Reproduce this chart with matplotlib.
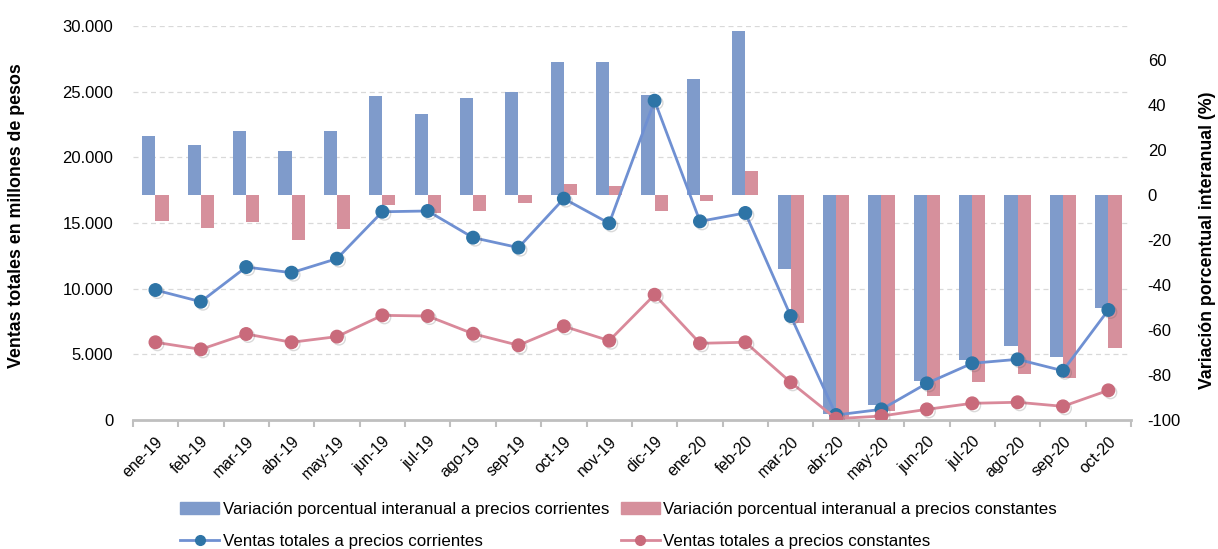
"""Ventas totales y variacion porcentual interanual, ene-19 a oct-20."""

import matplotlib.pyplot as plt
import matplotlib.ticker as mticker
import matplotlib.patheffects as pe
from matplotlib.lines import Line2D
from matplotlib.patches import Patch
import numpy as np

plt.rcParams['font.family'] = ['Liberation Sans', 'DejaVu Sans']
plt.rcParams['axes.unicode_minus'] = False

meses = ['ene-19', 'feb-19', 'mar-19', 'abr-19', 'may-19', 'jun-19', 'jul-19',
         'ago-19', 'sep-19', 'oct-19', 'nov-19', 'dic-19', 'ene-20', 'feb-20',
         'mar-20', 'abr-20', 'may-20', 'jun-20', 'jul-20', 'ago-20', 'sep-20',
         'oct-20']

# variacion porcentual interanual (eje derecho)
var_corrientes = [26.0, 22.2, 28.6, 19.7, 28.6, 43.8, 36.0, 43.1, 45.9, 59.1,
                  59.1, 44.4, 51.4, 73.0, -32.9, -97.3, -93.3, -82.5, -73.2,
                  -67.0, -72.0, -50.4]
var_constantes = [-11.4, -14.5, -12.0, -20.2, -15.3, -4.3, -8.2, -7.0, -3.7, 5.0,
                  3.8, -7.0, -2.5, 10.7, -56.8, -98.5, -96.2, -89.2, -83.3,
                  -79.6, -81.5, -68.2]

# ventas totales en millones de pesos (eje izquierdo)
ventas_corrientes = [9900, 9010, 11650, 11220, 12290, 15860, 15920, 13890, 13130,
                     16860, 14980, 24320, 15130, 15770, 7920, 380, 810, 2790,
                     4320, 4620, 3750, 8380]
ventas_constantes = [5920, 5380, 6550, 5920, 6350, 7970, 7920, 6570, 5690, 7140,
                     6040, 9540, 5840, 5920, 2870, 100, 300, 810, 1270, 1350,
                     1040, 2260]

AZUL_BAR = '#7f9bcb'
ROSA_BAR = '#d6909c'
AZUL_LIN = '#6f90d2'
AZUL_MK = '#2e74a6'
ROSA_LIN = '#d9899a'
ROSA_MK = '#c96a7b'
GRIS = '#bfbfbf'


def main():
    x = np.arange(len(meses))
    w = 0.29

    fig = plt.figure(figsize=(12.18, 5.49), dpi=100)
    ax = fig.add_axes([0.109, 0.235, 0.8196, 0.7174])
    ax2 = ax.twinx()   # barras, escala porcentual
    ax3 = ax.twinx()   # lineas, misma escala que ax

    # eje izquierdo: grilla y etiquetas
    ax.set_ylim(0, 30000)
    ax.set_yticks(np.arange(0, 30001, 5000))
    ax.yaxis.set_major_formatter(mticker.FuncFormatter(
        lambda v, p: f'{int(v):,}'.replace(',', '.')))
    ax.grid(axis='y', color='#d9d9d9', linestyle=(0, (4, 3)), linewidth=0.9)
    ax.set_axisbelow(True)
    ax.tick_params(axis='y', length=0, labelsize=12, pad=14)

    ax.set_xlim(-0.5, len(meses) - 0.5)
    ax.set_xticks(x)
    ax.set_xticklabels(meses, rotation=45, ha='right', rotation_mode='anchor',
                       fontsize=11.5)
    ax.set_xticks(np.arange(-0.5, len(meses), 1), minor=True)
    ax.tick_params(axis='x', which='major', length=0, pad=10)
    ax.tick_params(axis='x', which='minor', length=5, width=1.5, color=GRIS)

    for a in (ax, ax2, ax3):
        for s in ('left', 'right', 'top', 'bottom'):
            a.spines[s].set_visible(False)
    ax.spines['bottom'].set_visible(True)
    ax.spines['bottom'].set_color(GRIS)
    ax.spines['bottom'].set_linewidth(2)

    # barras
    ax2.bar(x - w / 2, var_corrientes, width=w, color=AZUL_BAR)
    ax2.bar(x + w / 2, var_constantes, width=w, color=ROSA_BAR)
    ax2.set_ylim(-100, 75)
    ax2.set_yticks(np.arange(-100, 61, 20))
    ax2.tick_params(axis='y', length=0, labelsize=12, pad=12)

    # lineas
    sombra = [pe.SimpleLineShadow(offset=(1.5, -1.5), alpha=0.22,
                                  shadow_color='#555555'), pe.Normal()]
    for ventas, c_lin, c_mk in ((ventas_corrientes, AZUL_LIN, AZUL_MK),
                                (ventas_constantes, ROSA_LIN, ROSA_MK)):
        ax3.plot(x, ventas, color=c_lin, lw=2)
        ax3.plot(x, ventas, ls='none', marker='o', ms=9, mfc=c_mk, mec=c_mk,
                 path_effects=sombra)
    ax3.set_ylim(ax.get_ylim())
    ax3.set_yticks([])

    fig.text(17 / 1218, 1 - 216 / 549, 'Ventas totales en millones de pesos',
             rotation=90, ha='center', va='center', fontsize=12.8,
             fontweight='bold')
    fig.text(1208 / 1218, 1 - 240 / 549, 'Variación porcentual interanual (%)',
             rotation=90, ha='center', va='center', fontsize=12.8,
             fontweight='bold')

    handles = [
        Patch(color=AZUL_BAR, label='Variación porcentual interanual a precios corrientes'),
        Line2D([], [], color=AZUL_LIN, lw=2, marker='o', ms=7, mfc=AZUL_MK,
               mec=AZUL_MK, label='Ventas totales a precios corrientes'),
        Patch(color=ROSA_BAR, label='Variación porcentual interanual a precios constantes'),
        Line2D([], [], color=ROSA_LIN, lw=2, marker='o', ms=7, mfc=ROSA_MK,
               mec=ROSA_MK, label='Ventas totales a precios constantes'),
    ]
    fig.legend(handles=handles, ncol=2, loc='center', bbox_to_anchor=(0.508, 0.043),
               frameon=False, fontsize=12.2, handlelength=2.3, handletextpad=0.2,
               columnspacing=0.7, labelspacing=1.0)

    fig.savefig('out.png', dpi=100)


if __name__ == "__main__":
    main()
